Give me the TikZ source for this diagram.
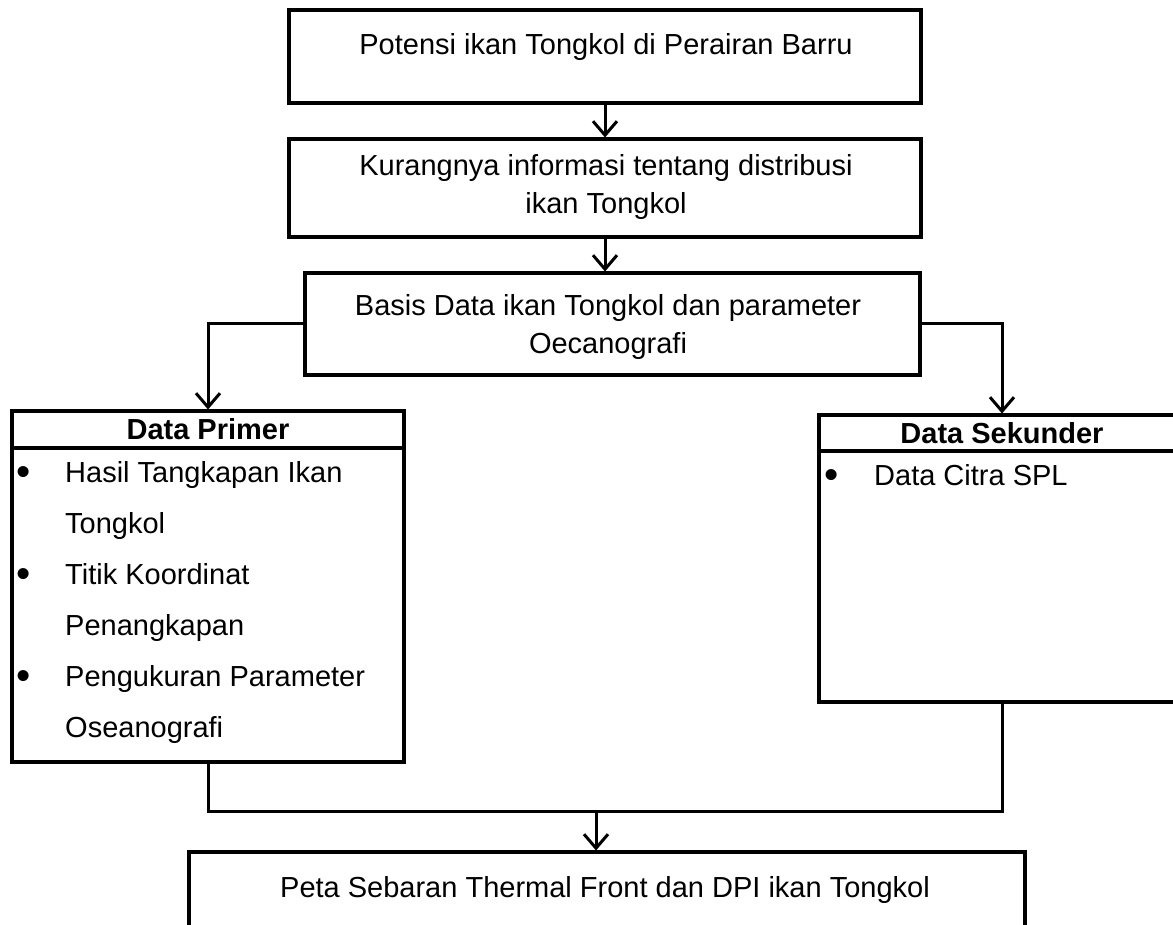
\documentclass[tikz,border=0pt]{standalone}
\usepackage{fontspec}
\usepackage{graphicx}
\setmainfont{Liberation Sans}
\usetikzlibrary{arrows.meta}
\newcommand\myfs{\fontsize{29}{38}\selectfont}
\newcommand\mylistfs{\fontsize{29}{51}\selectfont}
\newcommand\mybul{\raisebox{-3pt}{\scalebox{1.4}{\textbullet}}}
\begin{document}
\begin{tikzpicture}[x=1pt,y=-1pt,
  boxnode/.style={draw, line width=3.5pt, inner sep=0pt, outer sep=0pt},
  txt/.style={font=\myfs, align=center, inner sep=0pt},
  conn/.style={line width=3pt},
  arr/.style={line width=3pt, -{Straight Barb[length=14pt,width=24pt]}, shorten >=1.5pt},
  listnode/.style={anchor=north west, inner sep=0pt, align=left}
]
\useasboundingbox (0,0) rectangle (1173,925);
\clip (0,0) rectangle (1173,925);

% top boxes
\node[boxnode, minimum width=632pt, minimum height=93pt] (top) at (605,56.5) {};
\node[txt] (toptxt) at (606,47) {Potensi ikan Tongkol di Perairan Barru};
\node[boxnode, minimum width=632pt, minimum height=98pt] (kur) at (605,188) {};
\node[txt] (kurtxt) at (606,187) {Kurangnya informasi tentang distribusi\\ikan Tongkol};
\node[boxnode, minimum width=615pt, minimum height=102pt] (basis) at (612.5,324) {};
\node[txt] (basistxt) at (608,327) {Basis Data ikan Tongkol dan parameter\\Oecanografi};

\draw[arr] (top.south) -- (kur.north);
\draw[arr] (kur.south) -- (kur.south |- basis.north);

% Data Primer
\node[boxnode, minimum width=392pt, minimum height=37pt, font=\myfs\bfseries] (primh) at (208,429.5) {Data Primer};
\node[boxnode, minimum width=392pt, minimum height=314pt] (prim) at (208,605) {};
\node[listnode] (primlist) at (16,446.3) {\mylistfs\begin{tabular}{@{}p{49pt}@{}l@{}}
\mybul & Hasil Tangkapan Ikan\\
 & Tongkol\\
\mybul & Titik Koordinat\\
 & Penangkapan\\
\mybul & Pengukuran Parameter\\
 & Oseanografi
\end{tabular}};

% Data Sekunder
\node[boxnode, minimum width=366pt, minimum height=36pt, font=\myfs\bfseries] (sekh) at (1002,433) {Data Sekunder};
\node[boxnode, minimum width=366pt, minimum height=251pt] (sek) at (1002,576.5) {};
\node[listnode] (seklist) at (824,449.3) {\mylistfs\begin{tabular}{@{}p{50pt}@{}l@{}}
\mybul & Data Citra SPL
\end{tabular}};

\draw[arr] (basis.west) -| (primh.north);
\draw[arr] (basis.east) -| (sekh.north);

% bottom
\coordinate (jn) at (596,811);
\node[boxnode, minimum width=836pt, minimum height=128pt] (peta) at (607,916) {};
\node[txt] (petatxt) at (605,890) {Peta Sebaran Thermal Front dan DPI ikan Tongkol};
\draw[conn] (prim.south) |- (jn) -| (sek.south);
\draw[arr] (jn) -- (jn |- peta.north);
\end{tikzpicture}
\end{document}
